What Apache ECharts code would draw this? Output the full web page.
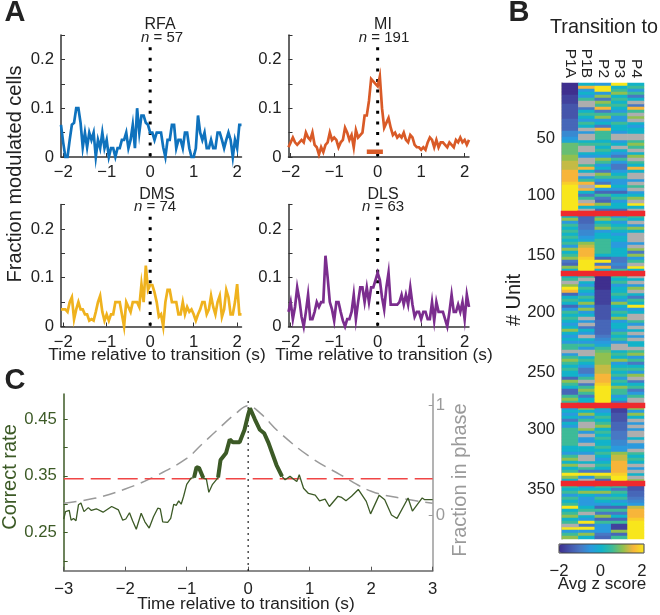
<!DOCTYPE html>
<html><head><meta charset="utf-8">
<style>html,body{margin:0;padding:0;background:#fff}#c{width:660px;height:615px}</style>
<script src="https://cdn.jsdelivr.net/npm/echarts@6/dist/echarts.min.js"></script>
</head><body><div id="c"></div>
<script>
// ---------- Panel A: fraction modulated cells, 0.05 s bins from -2.05 s
const rfa=[.066,.03,0,0,.035,.066,.07,.1,.1,.07,.02,.05,.02,.05,.035,.05,0,.035,.018,.05,.018,.035,0,.018,.018,0,.018,.018,.035,.035,.05,.018,.035,.066,.018,.1,.05,.085,.085,.07,.066,.05,.05,.035,.05,.05,.05,.02,0,.035,.035,.066,.066,.018,.035,.035,.018,.05,.05,.018,0,0,.018,.085,.05,.035,.05,.018,.018,.035,.018,.018,.05,.05,.035,.018,.035,.05,.035,0,.035,.018,.066,.066];
const mi=[.02,.03,.04,.03,.025,.03,.035,.03,.05,.04,.035,.05,.025,.02,.005,.02,.01,.025,.03,.05,.035,.04,.035,.02,.03,.035,.06,.05,.035,.045,.02,.055,.04,.045,.05,.085,.085,.115,.16,.155,.15,.145,.165,.1,.06,.07,.08,.06,.045,.05,.04,.045,.04,.05,.035,.03,.045,.04,.025,.02,.02,.015,.02,.015,.03,.04,.035,.02,.035,.02,.03,.03,.025,.02,.03,.025,.02,.035,.03,.04,.03,.035,.025,.035];
const dms=[.035,.035,.035,.03,.05,.06,.015,.035,.05,.035,.035,.025,.025,.012,.015,.012,.03,.05,.063,.03,.012,.025,.012,.025,.025,.05,.05,.05,.025,0,.05,.04,.03,.05,.05,.05,.04,.087,.05,.125,.075,.085,.085,.07,.05,.02,.025,0,.05,.075,.075,.05,.05,.05,.025,.025,.05,.025,.04,.03,.035,.025,.012,.025,.035,.05,.05,.025,.035,.063,.04,.025,.05,.063,.02,.035,.075,.06,.025,.025,.05,.087,.025,.025];
const dls=[.03,.05,.015,.04,.08,.055,.02,0,.03,.065,.015,.015,.03,.05,.04,.05,.05,.145,.1,.05,.035,.012,.05,.05,.03,.012,0,.015,.015,.03,.065,.015,.05,.08,.08,.05,.08,.05,.08,.08,.095,.11,.095,.06,.035,.08,.11,.045,.045,.045,.045,.05,.065,.045,.065,.045,.08,.045,.02,.03,.03,.015,.03,.03,.015,.015,.05,.012,.05,.03,.03,.03,.015,0,.03,.065,.03,.03,.045,.03,.05,.015,.065,.04];
const miSignificant=[-0.25,0.12];
const xTicksA=[-2,-1,0,1,2];
const yTicksA=[0,.05,.1,.15,.2,.25];
const yLabelsA=[0,.1,.2];

// ---------- Panel C: correct rate and fraction in phase
const cTimes=[-3,-2.97,-2.91,-2.88,-2.84,-2.8,-2.76,-2.72,-2.67,-2.6,-2.55,-2.47,-2.36,-2.22,-2.11,-2.04,-1.99,-1.93,-1.88,-1.82,-1.74,-1.68,-1.61,-1.54,-1.47,-1.43,-1.39,-1.31,-1.26,-1.21,-1.17,-1.13,-1.09,-1.05,-1,-.93,-.88,-.84,-.8,-.73,-.68,-.64,-.58,-.52,-.49,-.45,-.36,-.3,-.25,-.14,-.06,0,.03,.11,.19,.26,.33,.41,.46,.55,.6,.68,.74,.79,.83,.9,.98,1.09,1.16,1.25,1.32,1.46,1.52,1.59,1.68,1.79,1.92,1.99,2.13,2.22,2.33,2.42,2.6,2.67,2.83,2.87,3];
const cRate=[.274,.287,.289,.272,.275,.271,.299,.302,.287,.294,.289,.292,.286,.296,.29,.272,.274,.285,.271,.256,.284,.269,.258,.278,.293,.292,.269,.268,.275,.3,.298,.306,.3,.314,.335,.346,.347,.365,.364,.346,.344,.321,.335,.343,.347,.378,.39,.414,.409,.409,.431,.458,.469,.449,.431,.425,.408,.384,.369,.349,.343,.349,.344,.34,.352,.328,.319,.316,.306,.309,.296,.314,.312,.306,.314,.326,.305,.283,.316,.308,.281,.275,.311,.288,.311,.308,.308];
const cSigRanges=[[-.88,-.73],[-.49,.55]];
const chanceRate=.345;
const phaseTimes=[-3,-2.5,-2,-1.5,-1,-.75,-.5,-.2,0,.2,.5,1,1.5,2,2.5,3];
const phaseFrac=[.11,.155,.24,.36,.52,.65,.78,.93,1,.93,.76,.535,.37,.22,.155,.11];

// ---------- Panel B: rows of 3 px; code: 0..g => z = -2 + 0.25*k; n = no data
const p1aBlocks=["0000111222223333556"+"7bbbbccdddeeeefggggggggg","8c6a8a8a8a6c8ac43c8","8ancge38a8"+"36a8a868c8"+"686aan6aca"+"8a883ca833"+"aca","6868486aaa"+"aaa886ac8c"+"8agc8","a8a6a8ag8a"+"c8ang6ac"];
const p1bBlocks=["8e686ann48"+"a86a8n6nn8"+"ann86nnae8"+"n6aene84an"+"e8n","333445567cdeeefgggg","an86a86a8c"+"6c68n6n486"+"n86a6nn8a8"+"6446an4aca"+"488","c8c6annc6n"+"66n886nn8n"+"a4g6n","68c86668an"+"86g4g6c8"];
const p2Blocks=["6gg6c4cae4"+"ac684eaaa8"+"a8a86ca684"+"ca64g63a43"+"c83","ac8ac688aaaaa83g4e8","00000111112222233333"+"4567abccccdddeeefgggggg","868a8ac8a8"+"a88a8a868a"+"84gc3","a8c6a863a4"+"c3a66643"];
const p3Blocks=["g8ac8a8a86"+"a66a886nn6"+"8n864a6446"+"8a668638a6"+"883","6a68a8688668884454a","a8a688a86c"+"86a8c6886a"+"8a6nn8a8c6"+"8a8a6a8caa"+"684","11222333444"+"5566cddeeeefgg","a4a8a683a4"+"83a11c3a"];
const p4Blocks=["8a6a48n4ea"+"ncn8688nna"+"can8cna8e8"+"nn6nan68cn"+"g8n","a8n6c8nnn6nc4c6ang8","n8n6cn84a8"+"g68nna6n8n"+"6n88nac6a4"+"8a6cn48a46"+"ann","c6c8n6n6nn"+"8n66na8a8n"+"6n8nc","2233456deeefgggggg"];
const columns=["P1A","P1B","P2","P3","P4"];
const unitTickRows={18:"50",37:"100",57:"150",76:"200",96:"250",115:"300",135:"350"};
const colorTicks=[-2,0,2];
const parula=["#3f2f8e","#4555ab","#4878c4","#2a9ade","#12b3c9","#3dbb98","#90c050","#f7b53a","#f8e61c"];

// ---------- colours
const INK="#222",AXIS="#333",GREEN="#3c5a26",GRAY="#9a9a9a";
const FONT="Liberation Sans";
const TICK=16.7;

const t84=rfa.map((_,i)=>+(-2.05+.05*i).toFixed(2));
const minus=v=>String(v).replace("-","\u2212");

const grids=[],xAxes=[],yAxes=[],series=[],titles=[];
function panelA(left,top,name,n,vals,color,cxName,cxN){
  const gi=grids.length;
  grids.push({left:left,top:top,width:180.5,height:122});
  xAxes.push({gridIndex:gi,type:"value",min:-2.05,max:2.1,
    axisLine:{onZero:false,lineStyle:{color:AXIS,width:1.5}},splitLine:{show:false},
    axisTick:{inside:true,length:4,customValues:xTicksA,lineStyle:{color:AXIS,width:1}},
    axisLabel:{customValues:xTicksA,color:INK,fontSize:TICK,fontFamily:FONT,margin:7,formatter:minus}});
  const yi=yAxes.length;
  yAxes.push({gridIndex:gi,type:"value",min:0,max:.25,
    axisLine:{show:true,onZero:false,lineStyle:{color:AXIS,width:1.5}},splitLine:{show:false},
    axisTick:{show:true,inside:true,length:4,customValues:yTicksA,lineStyle:{color:AXIS,width:1}},
    axisLabel:{customValues:yLabelsA,color:INK,fontSize:TICK,fontFamily:FONT,margin:7,formatter:v=>String(+v.toFixed(2))}});
  series.push({type:"line",xAxisIndex:gi,yAxisIndex:yi,data:[[0,.225],[0,0]],showSymbol:false,silent:true,
    lineStyle:{color:"#000",width:3,type:[3,7.6]},z:1});
  series.push({type:"line",xAxisIndex:gi,yAxisIndex:yi,data:vals.map((v,i)=>[t84[i],v]),showSymbol:false,clip:false,
    lineStyle:{color:color,width:2.7,join:"miter"},z:2});
  titles.push({text:name,left:cxName,top:top-23,textAlign:"center",textStyle:{fontFamily:FONT,fontSize:16,fontWeight:"normal",color:INK}});
  titles.push({text:"{i|n} = "+n,left:cxN,top:top-10,textAlign:"center",textStyle:{fontFamily:FONT,fontSize:15,fontWeight:"normal",color:INK,
    rich:{i:{fontStyle:"italic",fontFamily:FONT,fontSize:15,color:INK}}}});
}
panelA(61,35,"RFA",57,rfa,"#0f72bd",155,157);
panelA(288.5,35,"MI",191,mi,"#d95a27",378,379);
panelA(61,204.5,"DMS",74,dms,"#efb21e",152,150);
panelA(288.5,204.5,"DLS",63,dls,"#7b2d8e",378,378);
// significance bar on MI
series.push({type:"line",xAxisIndex:1,yAxisIndex:1,data:miSignificant.map(t=>[t,.011]),showSymbol:false,
  lineStyle:{color:"#d95a27",width:4.5},z:3});

// Panel C
const gC=grids.length, xC=xAxes.length, yC=yAxes.length;
grids.push({left:63.7,top:394,width:369,height:176.7});
xAxes.push({gridIndex:gC,type:"value",min:-3,max:3,interval:1,
  axisLine:{onZero:false,lineStyle:{color:"#666",width:1.5}},splitLine:{show:false},
  axisTick:{inside:true,length:4,lineStyle:{color:"#555",width:1}},
  axisLabel:{color:INK,fontSize:TICK,fontFamily:FONT,margin:10,formatter:minus}});
yAxes.push({gridIndex:gC,type:"value",min:.183,max:.494,position:"left",
  axisLine:{show:true,onZero:false,lineStyle:{color:GREEN,width:1.5}},splitLine:{show:false},
  axisTick:{show:true,inside:true,length:4,customValues:[.2,.25,.3,.35,.4,.45],lineStyle:{color:GREEN,width:1}},
  axisLabel:{customValues:[.25,.35,.45],color:GREEN,fontSize:TICK,fontFamily:FONT,margin:7,formatter:v=>v.toFixed(2)}});
const yC2=yAxes.length;
yAxes.push({gridIndex:gC,type:"value",min:-.505,max:1.107,position:"right",
  axisLine:{show:true,onZero:false,lineStyle:{color:GRAY,width:1.5}},splitLine:{show:false},
  axisTick:{show:true,inside:true,length:4,customValues:[0,1],lineStyle:{color:GRAY,width:1}},
  axisLabel:{customValues:[0,1],color:GRAY,fontSize:TICK,fontFamily:FONT,margin:3}});
series.push({type:"line",xAxisIndex:xC,yAxisIndex:yC2,data:phaseTimes.map((t,i)=>[t,phaseFrac[i]]),smooth:.4,showSymbol:false,
  lineStyle:{color:GRAY,width:1.5,type:[13,7]},z:1});
series.push({type:"line",xAxisIndex:xC,yAxisIndex:yC,data:[[-3,chanceRate],[3,chanceRate]],showSymbol:false,
  lineStyle:{color:"#f04545",width:1.5,type:[20,7]},z:2});
series.push({type:"line",xAxisIndex:xC,yAxisIndex:yC,data:[[0,.183],[0,.488]],showSymbol:false,
  lineStyle:{color:"#111",width:1.5,type:[1.5,4.5]},z:2});
series.push({type:"line",xAxisIndex:xC,yAxisIndex:yC,data:cTimes.map((t,i)=>[t,cRate[i]]),showSymbol:false,
  lineStyle:{color:GREEN,width:1.3},z:3});
cSigRanges.forEach(r=>{
  series.push({type:"line",xAxisIndex:xC,yAxisIndex:yC,
    data:cTimes.map((t,i)=>[t,cRate[i]]).filter(p=>p[0]>=r[0]&&p[0]<=r[1]),showSymbol:false,
    lineStyle:{color:GREEN,width:4},z:4});
});

// Panel B
const rows=[];
const codes="0123456789abcdefg";
const blocks=[p1aBlocks,p1bBlocks,p2Blocks,p3Blocks,p4Blocks];
const cols=blocks.map(b=>b.join("r"));
const nRows=152;
for(let i=0;i<nRows;i++)rows.push(String(i));
const heat=[],grayCells=[],redCells=[];
cols.forEach((s,x)=>{for(let y=0;y<nRows;y++){
  const c=s[y]||"n";
  if(c==="r")redCells.push([x,y,1]);
  else if(c==="n")grayCells.push([x,y,1]);
  else heat.push([x,y,-2+.25*codes.indexOf(c)]);
}});
const gB=grids.length, xB=xAxes.length, yB=yAxes.length;
grids.push({left:562,top:83,width:82,height:456});
xAxes.push({gridIndex:gB,type:"category",data:columns,position:"top",
  axisLine:{show:false},axisTick:{show:false},splitLine:{show:false},
  axisLabel:{rotate:90,color:INK,fontSize:15.5,fontFamily:FONT,margin:5,interval:0}});
yAxes.push({gridIndex:gB,type:"category",data:rows,inverse:true,
  axisLine:{show:true,onZero:false,lineStyle:{color:"#aaa",width:1.5}},axisTick:{show:false},splitLine:{show:false},
  axisLabel:{color:INK,fontSize:TICK,fontFamily:FONT,margin:7,
    interval:i=>unitTickRows[i]!==undefined,formatter:(v,i)=>unitTickRows[i]||""}});
const heatIdx=series.length;
series.push({type:"heatmap",xAxisIndex:xB,yAxisIndex:yB,data:heat,silent:true,progressive:0,z:2});
const grayIdx=series.length;
series.push({type:"heatmap",xAxisIndex:xB,yAxisIndex:yB,data:grayCells,silent:true,progressive:0,z:2});
const redIdx=series.length;
series.push({type:"heatmap",xAxisIndex:xB,yAxisIndex:yB,data:redCells,silent:true,progressive:0,z:3,
  itemStyle:{borderColor:"#ee2a2e",borderWidth:2}});

// colorbar tick labels axis
const gT=grids.length;
grids.push({left:559,top:553,width:83,height:1});
xAxes.push({gridIndex:gT,type:"value",min:-2,max:2,interval:2,axisLine:{show:false},axisTick:{show:false},splitLine:{show:false},
  axisLabel:{customValues:colorTicks,color:INK,fontSize:TICK,fontFamily:FONT,margin:9,formatter:minus}});
yAxes.push({gridIndex:gT,type:"value",show:false,min:0,max:1});

function txt(text,x,y,size,opt){
  opt=opt||{};
  return {type:"text",x:x,y:y,rotation:opt.rot||0,z:50,silent:true,
    style:{text:text,fill:opt.color||INK,font:(opt.bold?"bold ":"")+size+"px '"+FONT+"'",textAlign:"center",textVerticalAlign:"middle"}};
}
const R=Math.PI/2;
const graphics=[
  txt("A",15,13,29,{bold:true}),txt("B",519,13,29,{bold:true}),txt("C",15,381,29,{bold:true}),
  txt("Fraction modulated cells",15,174,20,{rot:R}),
  txt("Time relative to transition (s)",157,355,17.3),
  txt("Time relative to transition (s)",384,355,17.3),
  txt("Time relative to transition (s)",246,604,17.3),
  txt("Correct rate",10,477,20,{rot:R,color:GREEN}),
  txt("Fraction in phase",460,480,20,{rot:R,color:GRAY}),
  txt("Transition to",604,28,19.8),
  txt("# Unit",514,300,20,{rot:R}),
  txt("Avg z score",602,584,17),
  {type:"rect",z:50,silent:true,shape:{x:559,y:544,width:85,height:9},style:{fill:"none",stroke:"#444",lineWidth:1}}
];

const chart=echarts.init(document.getElementById("c"),null,{renderer:"canvas"});
chart.setOption({
  animation:false,backgroundColor:"#fff",
  textStyle:{fontFamily:FONT},
  grid:grids,xAxis:xAxes,yAxis:yAxes,series:series,title:titles,graphic:graphics,
  visualMap:[
   {type:"continuous",min:-2,max:2,seriesIndex:heatIdx,dimension:2,orient:"horizontal",
    left:559,top:544,itemWidth:9,itemHeight:85,calculable:false,showLabel:false,hoverLink:false,
    inRange:{color:parula},padding:0},
   {type:"piecewise",show:false,seriesIndex:grayIdx,dimension:2,pieces:[{min:0,max:2,color:"#aeaeae"}]},
   {type:"piecewise",show:false,seriesIndex:redIdx,dimension:2,pieces:[{min:0,max:2,color:"#ee2a2e"}]}
  ]
});
</script></body></html>
